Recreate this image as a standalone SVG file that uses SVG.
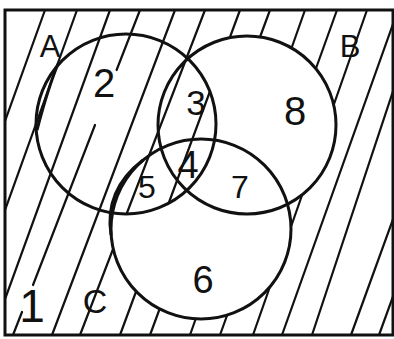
<svg xmlns="http://www.w3.org/2000/svg" width="394" height="339" viewBox="0 0 394 339">
  <style>
    .hatch line { stroke: #111; stroke-width: 2.2; stroke-linecap: round; }
    .ring { fill: none; stroke: #111; stroke-width: 3; }
    .frame { fill: none; stroke: #111; stroke-width: 3; }
    .lbl { font-family: "Liberation Sans", Arial, sans-serif; fill: #111; text-anchor: middle; }
  </style>
  <defs>
    <mask id="hatchMask" maskUnits="userSpaceOnUse" x="0" y="0" width="394" height="339">
      <rect x="5" y="10" width="388" height="325" fill="white"/>
      <circle cx="247" cy="125" r="89" fill="black"/>
      <circle cx="201" cy="229" r="90" fill="black"/>
      <circle cx="126" cy="124" r="90" fill="white"/>
    </mask>
  </defs>
  <rect width="394" height="339" fill="white"/>

  <g id="hatching" class="hatch" mask="url(#hatchMask)">
    <line x1="45" y1="10" x2="-72" y2="335"/>
    <line x1="77" y1="10" x2="-40" y2="335"/>
    <line x1="110" y1="10" x2="-8" y2="335"/>
    <line x1="140" y1="10" x2="116.6" y2="70"/>
    <line x1="95" y1="125" x2="33" y2="285"/>
    <line x1="22" y1="312" x2="13" y2="335"/>
    <line x1="175" y1="10" x2="52" y2="335"/>
    <line x1="205" y1="10" x2="80" y2="335"/>
    <line x1="240" y1="10" x2="120" y2="335"/>
    <line x1="270" y1="10" x2="150" y2="335"/>
    <line x1="305" y1="10" x2="190" y2="335"/>
    <line x1="337" y1="10" x2="220" y2="335"/>
    <line x1="367" y1="10" x2="253" y2="335"/>
    <line x1="398" y1="10" x2="282" y2="335"/>
    <line x1="420" y1="10" x2="312" y2="335"/>
    <line x1="469" y1="10" x2="351" y2="335"/>
    <line x1="497" y1="10" x2="379" y2="335"/>
  </g>

  <g id="frame">
    <rect class="frame" x="5" y="10" width="388" height="325"/>
    <text class="lbl" x="32" y="322" font-size="46">1</text>
  </g>

  <g id="set-A">
    <circle class="ring" cx="126" cy="124" r="90"/>
    <path class="ring" d="M58,64 Q48,88 37,130" stroke-width="2.4"/>
    <text class="lbl" x="50" y="57" font-size="31">A</text>
  </g>

  <g id="set-B">
    <circle class="ring" cx="247" cy="125" r="89"/>
    <text class="lbl" x="350" y="57" font-size="31">B</text>
  </g>

  <g id="set-C">
    <circle class="ring" cx="201" cy="229" r="90"/>
    <path class="ring" d="M111,235 Q104,190 143,160" stroke-width="2.4"/>
    <text class="lbl" x="95" y="313" font-size="34">C</text>
  </g>

  <g id="region-labels">
    <text class="lbl" x="104" y="97" font-size="40">2</text>
    <text class="lbl" x="196" y="115" font-size="35">3</text>
    <text class="lbl" x="295" y="125" font-size="40">8</text>
    <text class="lbl" x="188" y="178" font-size="38">4</text>
    <text class="lbl" x="147" y="198" font-size="32">5</text>
    <text class="lbl" x="240" y="198" font-size="32">7</text>
    <text class="lbl" x="203" y="293" font-size="38">6</text>
  </g>
</svg>
